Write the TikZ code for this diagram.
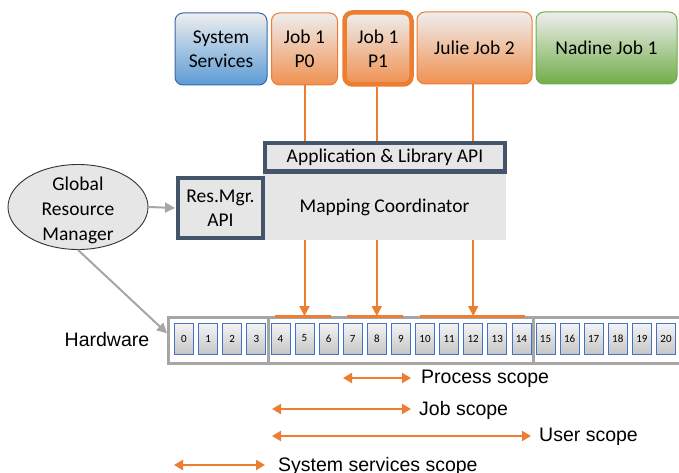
\documentclass[tikz,border=0pt]{standalone}
\usepackage{fontspec}
\setmainfont{Carlito}
\newfontfamily\arialfont{Liberation Sans}
\usetikzlibrary{arrows.meta,shapes.geometric,calc}

\definecolor{accorange}{HTML}{ED7D31}
\definecolor{accblue}{HTML}{5B9BD5}
\definecolor{blueedge}{HTML}{3B67A8}
\definecolor{accgreen}{HTML}{70AD47}
\definecolor{slate}{HTML}{44546A}
\definecolor{panelgray}{HTML}{E7E6E6}
\definecolor{boxtop}{HTML}{EEEEEE}
\definecolor{cellblue}{HTML}{4472C4}
\definecolor{celltop}{HTML}{F4F4F4}
\definecolor{cellbot}{HTML}{C6C6C6}
\definecolor{hwgray}{HTML}{A6A6A6}

\tikzset{
  every node/.style={font=\fontsize{19.5}{23.5}\selectfont, text=black},
  task/.style={rounded corners=8pt, align=center, inner sep=0pt,
    line width=1pt, minimum height=72pt, top color=boxtop},
  orangetask/.style={task, draw=accorange, middle color=boxtop!78!accorange,
    bottom color=accorange!85!white},
  apibox/.style={draw=slate, line width=4pt, fill=panelgray, align=center, inner sep=0pt},
  cellbox/.style={draw=cellblue, line width=0.8pt, top color=celltop, bottom color=cellbot,
    minimum width=19pt, minimum height=31pt, inner sep=0pt,
    font=\fontsize{11}{13}\selectfont},
  hwline/.style={draw=hwgray, line width=2.5pt},
  jobarrow/.style={draw=accorange, line width=2pt, -{Triangle[length=10pt,width=10pt]}},
  jobbar/.style={draw=accorange, line width=3pt},
  grayarrow/.style={draw=hwgray, line width=2pt, -{Triangle[length=10pt,width=10pt]}},
  scopearrow/.style={draw=accorange, line width=2.2pt,
    {Triangle[length=9pt,width=10pt]}-{Triangle[length=9pt,width=10pt]}},
  scopetext/.style={font=\arialfont\fontsize{19.5}{22}\selectfont, inner sep=0pt, anchor=west}
}

\begin{document}
\begin{tikzpicture}[x=1pt,y=-1pt]
\useasboundingbox (0,0) rectangle (679,473);

% ---- jobs and services ----
\node[task, draw=blueedge, middle color=boxtop!78!accblue, bottom color=accblue,
      minimum width=92pt] (sys) at (221,49) {System\\Services};
\node[orangetask, minimum width=66pt] (p0) at (304.5,49) {Job 1\\P0};
\node[orangetask, line width=4.5pt, minimum width=67pt] (p1) at (378,48.5) {Job 1\\P1};
\node[orangetask, minimum width=115pt] (julie) at (474.5,48) {Julie Job 2};
\node[task, draw=accgreen, middle color=boxtop!78!accgreen, bottom color=accgreen,
      minimum width=141pt] (nadine) at (606.5,48) {Nadine Job 1};

% ---- hardware ----
\node[hwline, minimum width=520pt, minimum height=46pt, anchor=north west, inner sep=0pt]
  (hw) at (167,316) {};
\foreach \i in {0,...,20}
  \node[cellbox] (c\i) at ({184+24.1*\i},338.5) {\i};
\coordinate (d1) at ($(c3.east)!.5!(c4.west)$);
\coordinate (d2) at ($(c14.east)!.5!(c15.west)$);
\draw[hwline] (d1 |- hw.north) -- (d1 |- hw.south);
\draw[hwline] (d2 |- hw.north) -- (d2 |- hw.south);
\node[font=\arialfont\fontsize{19.5}{22}\selectfont] (hwlabel) at (107,340) {Hardware};

% process placement bars
\draw[jobbar] (275,316) -- (331,316);
\draw[jobbar] (347,316) -- (403,316);
\draw[jobbar] (420,316) -- (525,316);

% processes mapped onto cores
\draw[jobarrow] (p0.south -| c5) -- (c5 |- hw.north);
\draw[jobarrow] (p1.south -| c8) -- (c8 |- hw.north);
\draw[jobarrow] (julie.south -| c12) -- (c12 |- hw.north);

% ---- runtime layers ----
\node[fill=panelgray, minimum width=243pt, minimum height=66pt, inner sep=0pt]
  (map) at (384.5,207) {Mapping Coordinator};
\node[apibox, minimum width=240pt, minimum height=28pt] (app) at (385,157.5)
  {Application \& Library API};
\node[apibox, minimum width=85pt, minimum height=60pt] (res) at (220.5,208)
  {Res.Mgr.\\API};

% ---- global resource manager ----
\node[ellipse, draw=black!80, line width=0.9pt, fill=panelgray, align=center,
      minimum width=140pt, minimum height=85pt, inner xsep=0pt, inner ysep=-7pt,
      font=\fontsize{19.5}{25}\selectfont]
  (grm) at (78,207) {\rule{0pt}{19.5pt}Global\\Resource\\Manager};
\draw[grayarrow, shorten >=1pt] (grm.east) -- (res.west);
\draw[grayarrow] (grm.south) -- ([yshift=7pt]hw.west);

% ---- scopes ----
\node[scopetext] (lproc) at (421,379) {Process scope};
\node[scopetext] (ljob) at (419,410) {Job scope};
\node[scopetext] (luser) at (539,437) {User scope};
\node[scopetext] (lsys) at (278,466) {System services scope};
\coordinate (sproc) at (343,378);
\coordinate (sjob) at (272,409);
\coordinate (suser) at (272,436);
\coordinate (ssys) at (174,465);
\draw[scopearrow] (sproc) -- (sproc -| {$(lproc.west)+(-10pt,0)$});
\draw[scopearrow] (sjob) -- (sjob -| {$(ljob.west)+(-8pt,0)$});
\draw[scopearrow] (suser) -- (suser -| {$(luser.west)+(-8pt,0)$});
\draw[scopearrow] (ssys) -- (ssys -| {$(lsys.west)+(-13pt,0)$});
\end{tikzpicture}
\end{document}
